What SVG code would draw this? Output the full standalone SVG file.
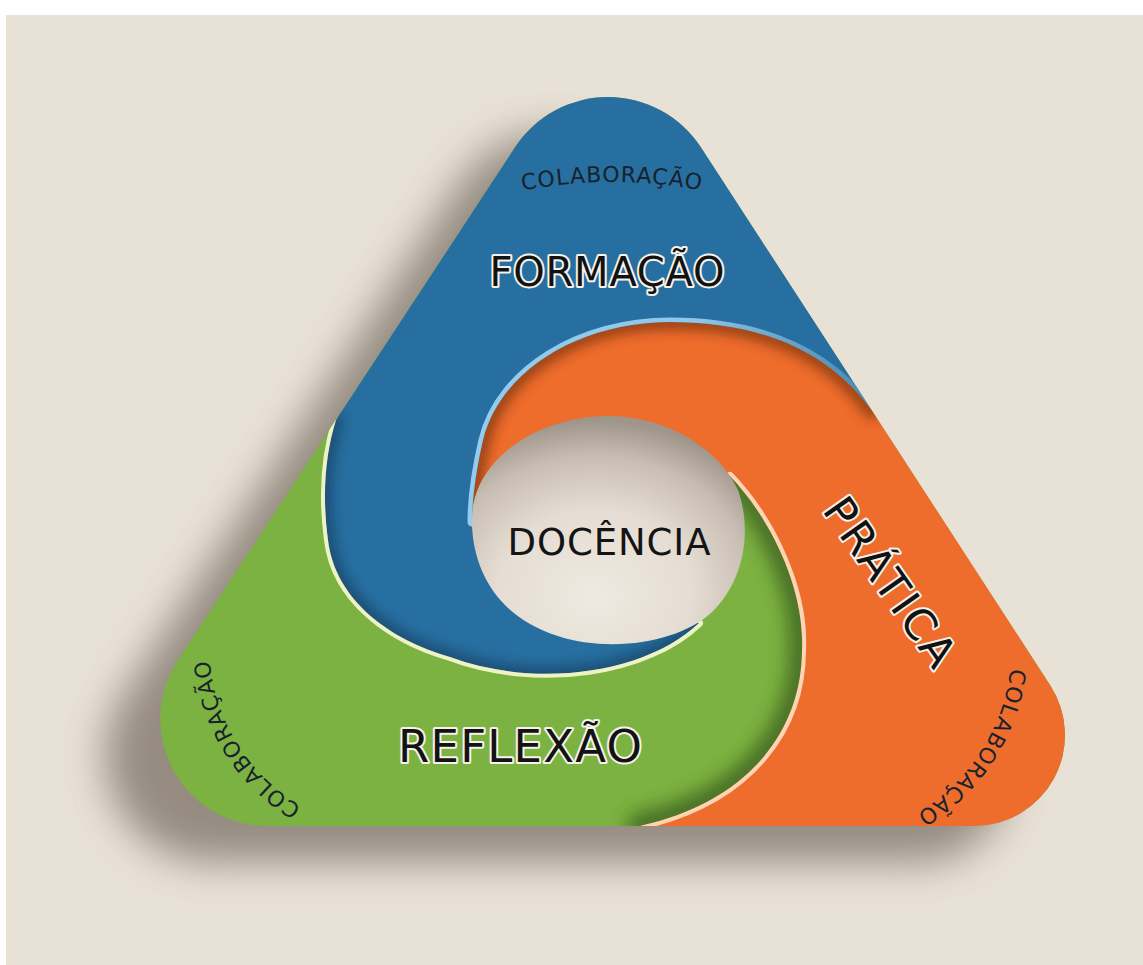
<svg xmlns="http://www.w3.org/2000/svg" width="1143" height="965" viewBox="0 0 1143 965">
<defs>
<style>
.big{font-family:"DejaVu Sans","Liberation Sans",sans-serif;fill:#121212;stroke:#f6f2ea;stroke-width:4px;stroke-linejoin:round;paint-order:stroke;text-anchor:middle}
.col{font-family:"DejaVu Sans","Liberation Sans",sans-serif;font-size:22px;fill:#17222c;letter-spacing:1px;text-anchor:middle}
.ctr{font-family:"DejaVu Sans","Liberation Sans",sans-serif;font-size:37px;fill:#141414;text-anchor:middle}
.sh{fill:none;stroke-linecap:round;stroke-linejoin:round}
</style>
<path id="outline" d="M515.2,147.1 A111,111 0 0 1 701,147.5 L1050.3,685.4 A91,91 0 0 1 974,826 L267.3,826 A107,107 0 0 1 177.8,660.3 Z"/>
<path id="BO" d="M872.2,411 C828,350 760,322 670,322 C580,322 500,370 483,440 C476,470 472,500 472,522"/>
<path id="OG" d="M730,476 C772,520 805,590 802,650 C802,725 755,800 640,826"/>
<path id="GB" d="M699,623 C648,672 540,690 450,657 C390,640 335,600 328,540 C322,495 325,455 336,420"/>
<path id="bluePath" d="M336,420 L515.2,147.1 A111,111 0 0 1 701,147.5 L872.2,411 C828,350 760,322 670,322 C580,322 500,370 483,440 C476,470 472,500 472,522 L699,623 C648,672 540,690 450,657 C390,640 335,600 328,540 C322,495 325,455 336,420 Z"/>
<path id="orangePath" d="M872.2,411 C828,350 760,322 670,322 C580,322 500,370 483,440 C476,470 472,500 472,522 L730,476 C772,520 805,590 802,650 C802,725 755,800 640,826 L974,826 A91,91 0 0 0 1050.3,685.4 Z"/>
<path id="topArc" d="M480,200.9 A470,470 0 0 1 744,200.9"/>
<path id="blArc" d="M365.2,830.1 A189,189 0 0 1 216.3,591.9"/>
<path id="brArc" d="M1005.3,594 A197,197 0 0 1 845.8,839.6"/>
<clipPath id="clipOut"><use href="#outline"/></clipPath>
<clipPath id="clipBlue"><use href="#bluePath"/></clipPath>
<clipPath id="clipOrange"><use href="#orangePath"/></clipPath>
<clipPath id="clipNotBlue"><path clip-rule="evenodd" d="M515.2,147.1 A111,111 0 0 1 701,147.5 L1050.3,685.4 A91,91 0 0 1 974,826 L267.3,826 A107,107 0 0 1 177.8,660.3 Z M336,420 L515.2,147.1 A111,111 0 0 1 701,147.5 L872.2,411 C828,350 760,322 670,322 C580,322 500,370 483,440 C476,470 472,500 472,522 L699,623 C648,672 540,690 450,657 C390,640 335,600 328,540 C322,495 325,455 336,420 Z"/></clipPath>
<filter id="drop" x="-20%" y="-20%" width="140%" height="140%"><feGaussianBlur stdDeviation="20"/></filter>
<filter id="b6" filterUnits="userSpaceOnUse" x="0" y="0" width="1143" height="965"><feGaussianBlur stdDeviation="6"/></filter>
<filter id="b9" filterUnits="userSpaceOnUse" x="0" y="0" width="1143" height="965"><feGaussianBlur stdDeviation="9"/></filter>
<radialGradient id="holeG" cx="0.45" cy="0.74" r="0.72" fx="0.45" fy="0.8">
<stop offset="0" stop-color="#efe9e1"/>
<stop offset="0.5" stop-color="#e5ddd3"/>
<stop offset="0.8" stop-color="#c8bdb2"/>
<stop offset="1" stop-color="#a0958b"/>
</radialGradient>
<linearGradient id="lbG" gradientUnits="userSpaceOnUse" x1="480" y1="0" x2="872" y2="0">
<stop offset="0" stop-color="#93ccef"/>
<stop offset="0.55" stop-color="#8fc7ea"/>
<stop offset="1" stop-color="#7fb0d0" stop-opacity="0.4"/>
</linearGradient>
</defs>

<rect x="0" y="0" width="1143" height="965" fill="#ffffff"/>
<rect x="6" y="15" width="1137" height="950" fill="#e8e1d6"/>

<g id="drop-shadow">
<use href="#outline" transform="translate(-55,36)" fill="#5e5249" opacity="0.6" filter="url(#drop)"/>
</g>

<g id="reflexao">
<use href="#outline" fill="#7cb241"/>
<use href="#OG" class="sh" stroke="#1c380c" stroke-width="26" opacity="0.55" filter="url(#b9)" clip-path="url(#clipOut)"/>
</g>

<g id="pratica">
<use href="#orangePath" fill="#ee6c2c"/>
<use href="#BO" class="sh" stroke="#4a1e05" stroke-width="16" opacity="0.5" filter="url(#b6)" clip-path="url(#clipOrange)"/>
<use href="#OG" class="sh" stroke="#fcd6b4" stroke-width="8" clip-path="url(#clipOrange)"/>
</g>

<g id="formacao">
<use href="#bluePath" fill="#276fa0"/>
<use href="#GB" class="sh" stroke="#071f36" stroke-width="14" opacity="0.4" filter="url(#b6)" clip-path="url(#clipBlue)"/>
<use href="#BO" class="sh" stroke="url(#lbG)" stroke-width="9" clip-path="url(#clipBlue)"/>
</g>

<g id="reflexao-edge">
<use href="#GB" class="sh" stroke="#eef3c6" stroke-width="8" clip-path="url(#clipNotBlue)"/>
</g>

<g id="docencia">
<path d="M472,522 C470,470 520,425 590,417 C650,410 715,440 738,490 C752,530 745,580 712,612 C670,652 560,660 505,605 C482,582 472,550 472,522 Z" fill="url(#holeG)"/>
<text class="ctr" x="609" y="555" textLength="203">DOCÊNCIA</text>
</g>

<g id="labels">
<text class="big" x="607" y="286" font-size="40" textLength="235">FORMAÇÃO</text>
<text class="big" x="520" y="762" font-size="45" textLength="244">REFLEXÃO</text>
<text class="big" font-size="43" transform="translate(890,582) rotate(55)" x="0" y="15" textLength="196">PRÁTICA</text>
<text class="col"><textPath href="#topArc" startOffset="50%">COLABORAÇÃO</textPath></text>
<text class="col"><textPath href="#blArc" startOffset="50%">COLABORAÇÃO</textPath></text>
<text class="col"><textPath href="#brArc" startOffset="50%">COLABORAÇÃO</textPath></text>
</g>
</svg>
